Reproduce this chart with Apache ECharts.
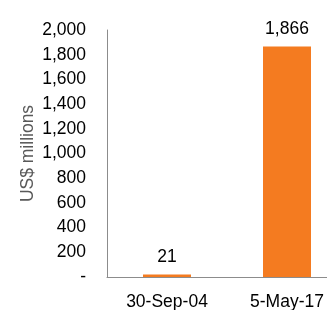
<!DOCTYPE html>
<html>
<head>
<meta charset="utf-8">
<script src="https://cdn.jsdelivr.net/npm/echarts@6/dist/echarts.min.js"></script>
<style>
  html, body { margin: 0; padding: 0; background: #fff; }
  #chart { width: 327px; height: 310px; }
</style>
</head>
<body>
<div id="chart"></div>
<script>
const categories = ['30-Sep-04', '5-May-17']
const values = [21, 1866]
const yTicks = [0, 200, 400, 600, 800, 1000, 1200, 1400, 1600, 1800, 2000]

const font = 'Liberation Sans, Arial, sans-serif'
const fmt = (v) => v === 0 ? '-' : v.toLocaleString('en-US')

const chart = echarts.init(document.getElementById('chart'))
chart.setOption({
  animation: false,
  grid: { left: 107, width: 240, top: 30, bottom: 33, outerBoundsMode: 'none', containLabel: false },
  xAxis: {
    type: 'category',
    data: categories,
    axisLine: { lineStyle: { color: '#8c8c8c', width: 1 } },
    axisTick: { show: false },
    axisLabel: { color: '#000', fontSize: 17.5, fontFamily: font, margin: 16 }
  },
  yAxis: {
    type: 'value',
    min: yTicks[0],
    max: yTicks[yTicks.length - 1],
    interval: 200,
    name: 'US$ millions',
    nameLocation: 'middle',
    nameGap: 70,
    nameMoveOverlap: false,
    nameTextStyle: { color: '#595959', fontSize: 17.5, fontFamily: font },
    axisLine: { show: true, lineStyle: { color: '#8c8c8c', width: 1 } },
    axisTick: { show: false },
    splitLine: { show: false },
    axisLabel: { color: '#000', fontSize: 17.5, fontFamily: font, margin: 21, formatter: fmt }
  },
  series: [{
    type: 'bar',
    data: values,
    barCategoryGap: '60%',
    itemStyle: { color: '#f47b20' },
    label: {
      show: true,
      position: 'top',
      distance: 8,
      color: '#000',
      fontSize: 17.5,
      fontFamily: font,
      formatter: (p) => fmt(p.value)
    }
  }]
})
</script>
</body>
</html>
